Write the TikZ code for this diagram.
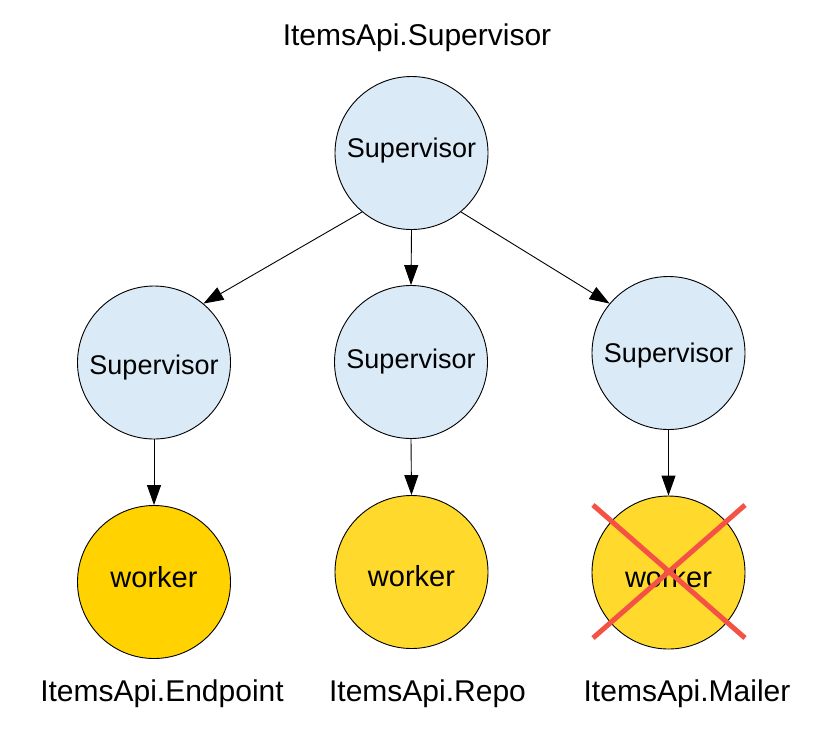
\documentclass[tikz,border=0pt]{standalone}
\usepackage{fontspec}
\setmainfont{Liberation Sans}
\usetikzlibrary{arrows.meta}

\definecolor{supfill}{RGB}{218,235,247}
\definecolor{workfill}{RGB}{255,217,43}
\definecolor{workfilldark}{RGB}{255,210,0}
\definecolor{crossred}{RGB}{245,82,70}

\tikzset{every picture/.style={line width=0.9pt}}
\tikzset{
  supnode/.style={circle,draw,fill=supfill,minimum size=153pt,inner sep=0pt,font=\fontsize{27}{32}\selectfont},
  worknode/.style={circle,draw,fill=workfill,minimum size=153pt,inner sep=0pt,font=\fontsize{29}{34}\selectfont},
  namelabel/.style={anchor=base,inner sep=0pt,font=\fontsize{30}{36}\selectfont},
  arr/.style={-{Triangle[length=20pt,width=14pt]}},
  crossline/.style={draw=crossred,line width=5pt}
}

\begin{document}
\begin{tikzpicture}[x=1pt,y=1pt,yscale=-1]
    \useasboundingbox (0,0) rectangle (829,732);

    % Text Node
    \node[namelabel] (toplabel) at (417,45) {ItemsApi.Supervisor};

    %Shape: Circle [id:top]
    \node[supnode,text height=20pt,text depth=11.7pt] (topsup) at (411.5,153) {Supervisor};

    %Shape: Circle [id:second row]
    \node[supnode,text height=30pt,text depth=5.7pt] (endsup) at (154,362.5) {Supervisor};
    \node[supnode] (reposup) at (411,362) {Supervisor};
    \node[supnode,text height=24pt,text depth=5.7pt] (mailsup) at (668.5,353) {Supervisor};

    %Shape: Circle [id:workers]
    \node[worknode,fill=workfilldark,text height=21pt,text depth=10pt] (endwork) at (154,582) {worker};
    \node[worknode,text height=29pt,text depth=0pt] (repowork) at (411.5,572) {worker};
    \node[worknode,text height=29pt,text depth=0pt] (mailwork) at (668.5,572.5) {worker};

    %Straight Lines [id:top to second row]
    \draw[arr] (topsup.230) -- (endsup.50);
    \draw[arr] (topsup.south) -- (reposup.north);
    \draw[arr] (topsup.310) -- (mailsup.140);

    %Straight Lines [id:second row to workers]
    \draw[arr] (endsup.south) -- (endwork.north);
    \draw[arr] (reposup.south) -- (repowork.north);
    \draw[arr] (mailsup.south) -- (mailwork.north);

    %Straight Lines [id:cross]
    \draw[crossline] (593,505) -- (745,638);
    \draw[crossline] (745,505) -- (593,638);

    % Text Node
    \node[namelabel] (endlabel) at (162,701) {ItemsApi.Endpoint};
    % Text Node
    \node[namelabel] (repolabel) at (427.5,701) {ItemsApi.Repo};
    % Text Node
    \node[namelabel] (maillabel) at (687,701) {ItemsApi.Mailer};

\end{tikzpicture}
\end{document}
